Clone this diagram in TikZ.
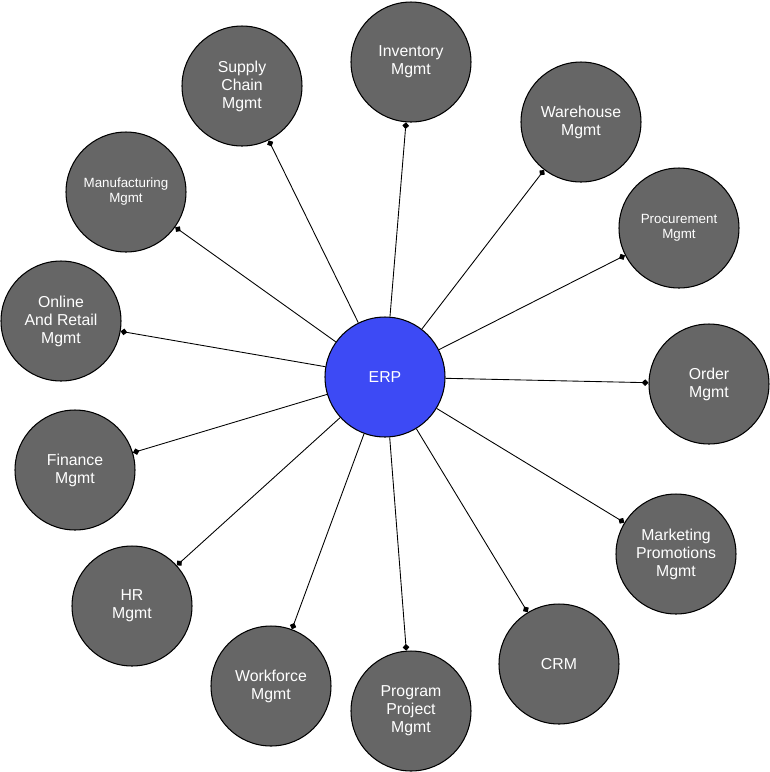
\documentclass[tikz,border=0pt]{standalone}
\usepackage{fontspec}
\setmainfont{Liberation Sans}
\usetikzlibrary{arrows.meta}
\definecolor{erpblue}{RGB}{61,74,245}
\definecolor{modgray}{RGB}{102,102,102}
\tikzset{
  module/.style={circle, draw=black, line width=0.6pt, fill=modgray, text=white, minimum size=2.4cm, inner sep=0pt, align=center, font=\fontsize{9}{10.2}\selectfont},
  small module/.style={module, font=\fontsize{7.6}{8.5}\selectfont},
  hub/.style={module, fill=erpblue},
  link/.style={draw=black, line width=0.5pt, arrows={-Diamond[length=3.8pt, width=3.8pt]}},
}
\begin{document}
\begin{tikzpicture}[x=0.02cm, y=-0.02cm]
\useasboundingbox (0,0) rectangle (769,772);
\node [hub] (erp) at (385,377) {ERP};
\node [module] (supply) at (242,86) {Supply\\Chain\\Mgmt};
\node [module] (inventory) at (411,62) {Inventory\\Mgmt};
\node [module] (warehouse) at (581,122) {Warehouse\\Mgmt};
\node [small module] (manufacturing) at (126,192) {Manufacturing\\Mgmt};
\node [small module] (procurement) at (679,228) {Procurement\\Mgmt};
\node [module] (online) at (61,321) {Online\\And Retail\\Mgmt};
\node [module] (order) at (709,384) {Order\\Mgmt};
\node [module] (finance) at (75,470) {Finance\\Mgmt};
\node [module] (marketing) at (676,554) {Marketing\\Promotions\\Mgmt};
\node [module] (hr) at (132,606) {HR\\Mgmt};
\node [module] (crm) at (559,664) {CRM};
\node [module] (workforce) at (271,686) {Workforce\\Mgmt};
\node [module] (program) at (411,711) {Program\\Project\\Mgmt};
% spokes from the hub
\draw [link] (erp) -- (supply);
\draw [link] (erp) -- (inventory);
\draw [link] (erp) -- (warehouse);
\draw [link] (erp) -- (manufacturing);
\draw [link] (erp) -- (procurement);
\draw [link] (erp) -- (online);
\draw [link] (erp) -- (order);
\draw [link] (erp) -- (finance);
\draw [link] (erp) -- (marketing);
\draw [link] (erp) -- (hr);
\draw [link] (erp) -- (crm);
\draw [link] (erp) -- (workforce);
\draw [link] (erp) -- (program);
\end{tikzpicture}
\end{document}
